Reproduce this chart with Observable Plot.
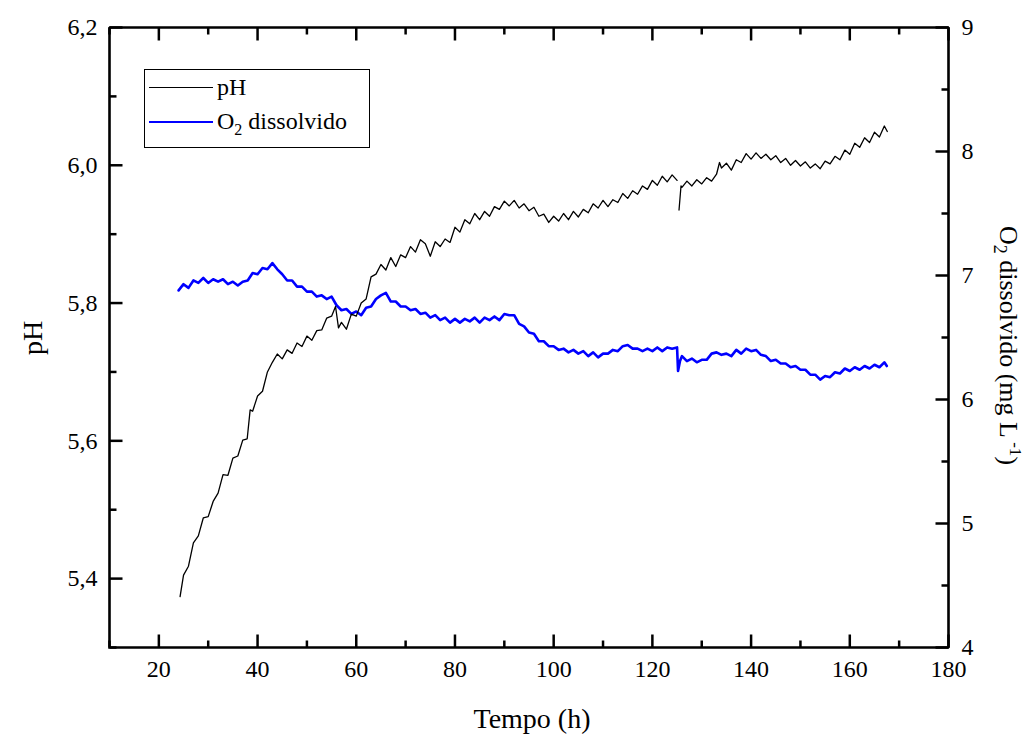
<!DOCTYPE html>
<html><head><meta charset="utf-8">
<script src="https://cdn.jsdelivr.net/npm/d3@7"></script>
<script src="https://cdn.jsdelivr.net/npm/@observablehq/plot@0.6"></script>
<style>
body{margin:0;background:#fff}
svg{display:block}
#wrap{position:relative;width:1031px;height:736px;font-family:Liberation Serif, Times New Roman, serif;color:#000}
.t{position:absolute;line-height:1;white-space:nowrap}
.t sub,.t sup{line-height:0}
#legend{position:absolute;left:144px;top:69px;width:226px;height:79px;box-sizing:border-box;border:1.5px solid #000;background:#fff}
.sw{position:absolute;left:4px;width:64px}
</style>
</head><body><div id="wrap"></div><script>
// pH series (left axis)
const phTime = [24.3,25,26,27,28,29,30,31,32,33,34,35,36,37,37.9,38.5,39,40,41,42,43,44,45,46,47,48,49,50,51,52,53,54,55,55.8,56.4,57,58,59,60,61,62,63,64,65,66,67,68,69,70,71,72,73,74,75,76,77,78,79,80,81,82,83,84,85,86,87,88,89,90,91,92,93,94,95,96,97,98,99,100,101,102,103,104,105,106,107,108,109,110,111,112,113,114,115,116,117,118,119,120,121,122,123,124,125,125.2,125.4,125.8,126,127,128,129,130,131,132,133,133.6,134,135,136,137,138,139,140,141,142,143,144,145,146,147,148,149,150,151,152,153,154,155,156,157,158,159,160,161,162,163,164,165,166,167,167.6];
const phValue = [5.374,5.405,5.418,5.452,5.462,5.488,5.490,5.512,5.524,5.551,5.550,5.575,5.578,5.601,5.603,5.645,5.643,5.665,5.672,5.700,5.714,5.726,5.719,5.732,5.727,5.742,5.737,5.752,5.746,5.760,5.761,5.778,5.781,5.795,5.764,5.772,5.762,5.784,5.781,5.800,5.806,5.838,5.842,5.856,5.848,5.866,5.853,5.870,5.866,5.882,5.874,5.892,5.886,5.868,5.889,5.882,5.893,5.888,5.910,5.903,5.921,5.915,5.930,5.921,5.933,5.926,5.940,5.936,5.948,5.941,5.949,5.938,5.944,5.934,5.939,5.926,5.929,5.917,5.926,5.919,5.930,5.921,5.933,5.925,5.936,5.931,5.944,5.938,5.949,5.940,5.950,5.946,5.959,5.952,5.963,5.958,5.970,5.965,5.978,5.971,5.984,5.976,5.986,5.978,null,5.935,5.970,5.968,5.977,5.970,5.979,5.973,5.982,5.977,5.987,6.004,5.996,6.003,5.993,6.008,6.004,6.017,6.009,6.018,6.010,6.016,6.008,6.014,6.004,6.010,6.000,6.007,5.999,6.005,5.996,6.002,5.995,6.006,6.002,6.013,6.008,6.022,6.016,6.032,6.026,6.040,6.033,6.048,6.041,6.057,6.049];
// Dissolved O2 series (right axis, mg/L)
const o2Time = [24,25,26,27,28,29,30,31,32,33,34,35,36,37,38,39,40,41,42,43,44,45,46,47,48,49,50,51,52,53,54,55,56,57,58,59,60,61,62,63,64,65,66,67,68,69,70,71,72,73,74,75,76,77,78,79,80,81,82,83,84,85,86,87,88,89,90,91,92,93,94,95,96,97,98,99,100,101,102,103,104,105,106,107,108,109,110,111,112,113,114,115,116,117,118,119,120,121,122,123,124,125,125.2,125.6,126,127,128,129,130,131,132,133,134,135,136,137,138,139,140,141,142,143,144,145,146,147,148,149,150,151,152,153,154,155,156,157,158,159,160,161,162,163,164,165,166,167,167.5];
const o2Value = [6.88,6.93,6.90,6.96,6.94,6.98,6.94,6.97,6.95,6.97,6.93,6.95,6.92,6.95,6.96,7.02,7.01,7.06,7.05,7.10,7.05,7.01,6.96,6.96,6.91,6.91,6.87,6.87,6.83,6.84,6.81,6.83,6.76,6.72,6.73,6.69,6.71,6.68,6.74,6.75,6.81,6.84,6.86,6.79,6.79,6.75,6.75,6.72,6.73,6.69,6.70,6.66,6.68,6.64,6.66,6.62,6.65,6.62,6.65,6.63,6.66,6.62,6.66,6.64,6.67,6.64,6.69,6.68,6.68,6.61,6.59,6.54,6.53,6.47,6.47,6.43,6.43,6.40,6.41,6.38,6.40,6.37,6.39,6.35,6.38,6.34,6.37,6.37,6.40,6.39,6.43,6.44,6.41,6.41,6.39,6.41,6.39,6.42,6.39,6.42,6.41,6.42,6.23,6.31,6.35,6.31,6.33,6.30,6.32,6.32,6.37,6.38,6.36,6.37,6.35,6.40,6.37,6.41,6.39,6.40,6.36,6.35,6.31,6.32,6.29,6.29,6.26,6.27,6.24,6.24,6.20,6.20,6.16,6.19,6.18,6.22,6.21,6.25,6.23,6.26,6.24,6.27,6.25,6.28,6.26,6.30,6.27];

// Tick values
const xMajor = [20,40,60,80,100,120,140,160,180];
const xMinor = [10,30,50,70,90,110,130,150,170];
const phMajor = [5.4,5.6,5.8,6.0,6.2];
const phMinor = [5.3,5.5,5.7,5.9,6.1];
const o2Major = [4,5,6,7,8,9];
const o2Minor = [4.5,5.5,6.5,7.5,8.5];

const xDomain = [10, 180];
const phDomain = [5.3, 6.2];
const o2Domain = [4, 9];
const toPH = o => phDomain[0] + (o - o2Domain[0]) * (phDomain[1]-phDomain[0]) / (o2Domain[1]-o2Domain[0]);
const toO2 = p => o2Domain[0] + (p - phDomain[0]) * (o2Domain[1]-o2Domain[0]) / (phDomain[1]-phDomain[0]);

const phData = phTime.map((t,i) => ({t, v: phValue[i]}));
const o2Data = o2Time.map((t,i) => ({t, v: o2Value[i]}));

const W = 1031, H = 736;
const mL = 109, mR = 83, mT = 27, mB = 89;
const pw = W - mL - mR, plotH = H - mT - mB;
const font = "Liberation Serif, Times New Roman, serif";
const comma = d => d3.format(".1f")(d).replace(".", ",");

// tick lengths (px) converted to data units; each tick becomes a 2-point segment
const xu = px => px * (xDomain[1]-xDomain[0]) / pw;
const yu = px => px * (phDomain[1]-phDomain[0]) / plotH;
const MAJ = 13, MIN = 7;
const segs = [];
const addX = (vals, len, edge, dir) => vals.forEach(v => { const id = "x" + edge + v + len;
  segs.push({id, x: v, y: edge}, {id, x: v, y: edge + dir * yu(len)}); });
const addY = (vals, len, edge, dir) => vals.forEach(v => { const id = "y" + edge + v + len;
  segs.push({id, x: edge, y: v}, {id, x: edge + dir * xu(len), y: v}); });
addX(xMajor, MAJ, phDomain[0], 1); addX(xMinor, MIN, phDomain[0], 1);
addX(xMajor, MAJ, phDomain[1], -1); addX(xMinor, MIN, phDomain[1], -1);
addY(phMajor, MAJ, xDomain[0], 1); addY(phMinor, MIN, xDomain[0], 1);
addY(o2Major.map(toPH), MAJ, xDomain[1], -1); addY(o2Minor.map(toPH), MIN, xDomain[1], -1);
const frameData = [[xDomain[0], phDomain[0]], [xDomain[1], phDomain[0]], [xDomain[1], phDomain[1]], [xDomain[0], phDomain[1]], [xDomain[0], phDomain[0]]];

const chart = Plot.plot({
  width: W, height: H,
  marginLeft: mL, marginRight: mR, marginTop: mT, marginBottom: mB,
  style: {fontFamily: font, fontSize: "24px", color: "black", background: "white"},
  x: {domain: xDomain, label: null},
  y: {domain: phDomain, label: null},
  marks: [
    Plot.axisX(xMajor, {anchor: "bottom", tickSize: 0, tickPadding: 12, fontSize: 24, fontFamily: font, label: null}),
    Plot.axisY(phMajor, {anchor: "left", tickSize: 0, tickPadding: 12, fontSize: 24, fontFamily: font, tickFormat: comma, label: null}),
    Plot.axisY(o2Major.map(toPH), {anchor: "right", tickSize: 0, tickPadding: 13, fontSize: 24, fontFamily: font,
      tickFormat: d => String(Math.round(toO2(d))), label: null}),
    Plot.line(segs, {x: "x", y: "y", z: "id", stroke: "black", strokeWidth: 2.5, strokeLinecap: "butt"}),
    Plot.line(o2Data, {x: "t", y: d => toPH(d.v), stroke: "#0000ff", strokeWidth: 2.6}),
    Plot.line(phData, {x: "t", y: "v", stroke: "black", strokeWidth: 1.3}),
    Plot.line(frameData, {x: d => d[0], y: d => d[1], stroke: "black", strokeWidth: 2.6, strokeLinecap: "square", strokeLinejoin: "miter"})
  ]
});
// make the serif font explicit on every text element
chart.setAttribute("font-family", font);
d3.select(chart).selectAll("text").attr("font-family", font);

const wrap = document.getElementById("wrap");
wrap.appendChild(chart);

// Axis titles and legend as HTML text overlays
function addDiv(html, css, cls = "t") {
  const d = document.createElement("div");
  d.className = cls;
  d.innerHTML = html;
  Object.assign(d.style, css);
  wrap.appendChild(d);
  return d;
}
addDiv("Tempo (h)", {left: "532px", top: "705px", fontSize: "28px", transform: "translateX(-50%)"});
addDiv("pH", {left: "33px", top: "338px", fontSize: "28px", transform: "translate(-50%,-50%) rotate(-90deg)"});
addDiv("O<sub style='font-size:18px'>2</sub> dissolvido (mg L<sup style='font-size:17px'> -1</sup>)",
  {left: "1021px", top: "226px", fontSize: "26px", transformOrigin: "0 0", transform: "rotate(90deg)"});

const legend = addDiv("", {}, "");
legend.id = "legend";
legend.innerHTML =
  "<div class='sw' style='top:17px;border-top:1.3px solid #000'></div>" +
  "<div class='sw' style='top:51px;border-top:2px solid #0000ff'></div>" +
  "<div class='t' style='left:72px;top:5px;font-size:24px'>pH</div>" +
  "<div class='t' style='left:72px;top:39px;font-size:24px'>O<sub style='font-size:16px'>2</sub> dissolvido</div>";
</script></body></html>
